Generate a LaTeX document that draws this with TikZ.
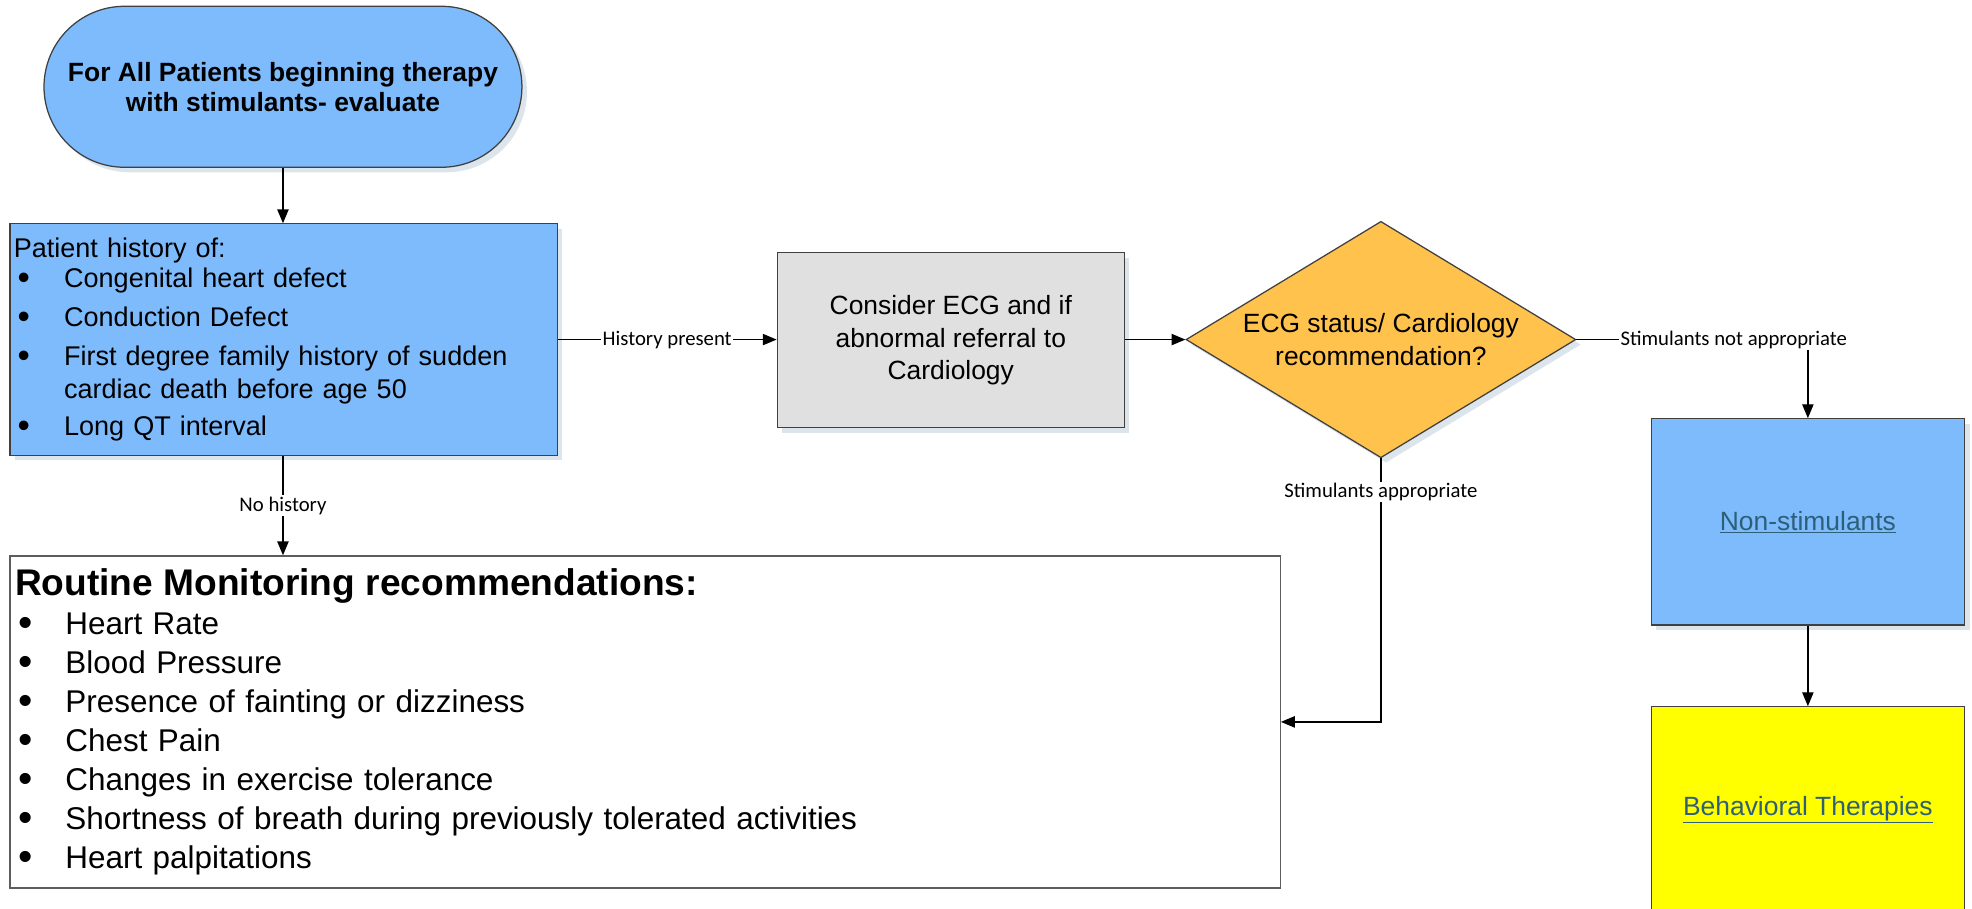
\documentclass[tikz,border=0pt]{standalone}
\usepackage{fontspec}
\usepackage{graphicx}
\setmainfont{Liberation Sans}
\newfontfamily\labelfont{Carlito}
\usetikzlibrary{arrows.meta,shapes.geometric,shadows}
\definecolor{boxblue}{HTML}{7DBBFD}
\definecolor{boxgray}{HTML}{E0E0E0}
\definecolor{decorange}{HTML}{FFC24C}
\definecolor{behyellow}{HTML}{FFFF00}
\definecolor{linkcol}{HTML}{2E5F78}
\definecolor{shadowcol}{HTML}{DDE5EC}
\definecolor{edgecol}{HTML}{404040}
\newcommand\bul{\hspace*{3pt}\makebox[37pt][l]{\raisebox{-0.06em}{\scalebox{1.3}{\textbullet}}}}
\newcommand\bulgap{\hspace*{40pt}}
\begin{document}
\begin{tikzpicture}[x=1pt,y=-1pt,
  shad/.style={drop shadow={shadow xshift=4pt,shadow yshift=-4pt,fill=shadowcol,opacity=1}},
  boxbase/.style={draw=edgecol,line width=1pt,inner sep=0pt},
  conn/.style={draw=black,line width=1pt,-{Triangle[length=11pt,width=9pt]}},
  lbl/.style={font=\labelfont\fontsize{16.5}{18}\selectfont,fill=white,inner sep=1pt},
  mainfont/.style={font=\fontsize{21}{26}\selectfont}]
\useasboundingbox (0,0) rectangle (1568,722);
\clip (0,0) rectangle (1568,722);

% start terminal
\node[boxbase,shad,fill=boxblue,rectangle,rounded corners=64pt,
  minimum width=380pt,minimum height=128pt,align=center,
  font=\bfseries\fontsize{21}{24}\selectfont] (term) at (225,69)
  {For All Patients beginning therapy\\with stimulants- evaluate};

% patient history
\node[boxbase,shad,fill=boxblue,minimum width=435pt,minimum height=184pt,
  text width=429pt,align=left,inner xsep=3pt,font=\fontsize{21.5}{25}\selectfont] (pat) at (225.5,270)
  {Patient history of:\\[-1pt]
   \bul Congenital heart defect\\[6pt]
   \bul Conduction Defect\\[6pt]
   \bul First degree family history of sudden\\[1pt]
   \bulgap cardiac death before age 50\\[5pt]
   \bul Long QT interval};

% ECG box
\node[boxbase,shad,fill=boxgray,minimum width=276pt,minimum height=139pt,
  align=center,mainfont] (gray) at (756,270.5)
  {Consider ECG and if\\abnormal referral to\\Cardiology};

% decision
\node[boxbase,shad,fill=decorange,diamond,minimum width=310pt,minimum height=188pt,
  label={[align=center,mainfont]center:ECG status/ Cardiology\\recommendation?}] (dia) at (1098,270) {};

% non-stimulants
\node[boxbase,shad,fill=boxblue,minimum width=249pt,minimum height=164pt,
  mainfont,text=linkcol] (ns) at (1437.5,415) {\underline{Non-stimulants}};

% behavioral therapies
\node[boxbase,fill=behyellow,minimum width=249pt,minimum height=164pt,
  mainfont,text=linkcol] (bt) at (1437.5,644) {\underline{Behavioral Therapies}};

% routine monitoring
\node[boxbase,draw=edgecol!85,fill=white,minimum width=1010pt,minimum height=264pt,
  text width=1002pt,align=left,inner xsep=4pt,font=\fontsize{25}{31}\selectfont] (rout) at (513,574)
  {{\bfseries\fontsize{29.5}{31}\selectfont Routine Monitoring recommendations:}\\
   \bul Heart Rate\\
   \bul Blood Pressure\\
   \bul Presence of fainting or dizziness\\
   \bul Chest Pain\\
   \bul Changes in exercise tolerance\\
   \bul Shortness of breath during previously tolerated activities\\
   \bul Heart palpitations};

% connectors
\draw[conn] (term.south) -- (term.south |- pat.north);
\draw[conn] (pat.east |- dia.west) -- node[lbl]{History present} (gray.west |- dia.west);
\draw[conn] (gray.east |- dia.west) -- (dia.west);
\draw[conn] (dia.east) -| node[lbl,pos=0.34]{Stimulants not appropriate} (ns.north);
\draw[conn] (ns.south) -- (bt.north);
\draw[conn] (dia.south) |- node[lbl,pos=0.064]{Stimulants appropriate} (rout.east);
\draw[conn] (term.south |- pat.south) -- node[lbl]{No history} (term.south |- rout.north);
\end{tikzpicture}
\end{document}
